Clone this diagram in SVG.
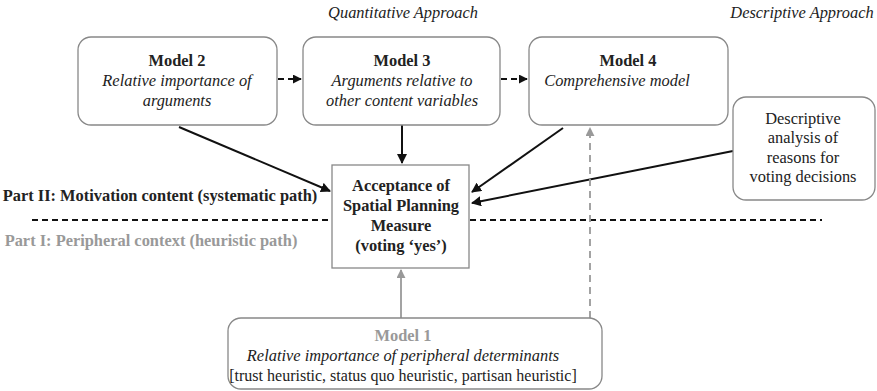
<svg xmlns="http://www.w3.org/2000/svg" width="877" height="391" viewBox="0 0 877 391">
<style>
text{font-family:"Liberation Serif","Times New Roman",serif;font-size:16.4px;fill:#222;text-anchor:middle}
.b{font-weight:bold}
.i{font-style:italic}
.g{fill:#999}
.box{fill:#fff;stroke:#888;stroke-width:1.3}
.ln{stroke:#111;stroke-width:2;fill:none}
.dl{stroke:#111;stroke-width:1.8;fill:none;stroke-dasharray:6,4}
.gl{stroke:#999;stroke-width:1.8;fill:none}
.gd{stroke:#999;stroke-width:1.8;fill:none;stroke-dasharray:7,5}
</style>
<defs>
<marker id="ab" viewBox="0 0 10 10" refX="9" refY="5" markerWidth="5" markerHeight="5" orient="auto"><path d="M0,0 L10,5 L0,10 z" fill="#111"/></marker>
<marker id="ag" viewBox="0 0 10 10" refX="9" refY="5" markerWidth="5" markerHeight="5" orient="auto"><path d="M0,0 L10,5 L0,10 z" fill="#999"/></marker>
</defs>
<text class="i" x="403" y="18">Quantitative Approach</text>
<text class="i" x="802" y="18">Descriptive Approach</text>
<g id="divider">
<line class="dl" x1="32" y1="220" x2="332" y2="220"/>
<line class="dl" x1="470" y1="220" x2="822" y2="220"/>
</g>
<text class="b" x="160" y="201">Part II: Motivation content (systematic path)</text>
<text class="b g" x="151" y="246">Part I: Peripheral context (heuristic path)</text>
<g id="connectors">
<line class="dl" x1="278" y1="79" x2="301" y2="79" marker-end="url(#ab)"/>
<line class="dl" x1="501" y1="79" x2="527" y2="79" marker-end="url(#ab)"/>
<line class="ln" x1="402" y1="125" x2="402" y2="163" marker-end="url(#ab)"/>
<line class="ln" x1="179" y1="127" x2="330" y2="191" marker-end="url(#ab)"/>
<line class="ln" x1="563" y1="128" x2="472" y2="192" marker-end="url(#ab)"/>
<line class="ln" x1="733" y1="151" x2="472" y2="203" marker-end="url(#ab)"/>
<line class="gl" x1="401" y1="318" x2="401" y2="270" marker-end="url(#ag)"/>
<line class="gd" x1="590" y1="318" x2="590" y2="128" marker-end="url(#ag)"/>
</g>
<g id="model2">
<rect class="box" x="78" y="37" width="199" height="88" rx="13"/>
<text class="b" x="177" y="66">Model 2</text>
<text class="i" x="177" y="86">Relative importance of</text>
<text class="i" x="177" y="106">arguments</text>
</g>
<g id="model3">
<rect class="box" x="303" y="37" width="197" height="88" rx="13"/>
<text class="b" x="402" y="66">Model 3</text>
<text class="i" x="402" y="86">Arguments relative to</text>
<text class="i" x="402" y="106">other content variables</text>
</g>
<g id="model4">
<rect class="box" x="529" y="37" width="199" height="88" rx="13"/>
<text class="b" x="628" y="66">Model 4</text>
<text class="i" x="617" y="86">Comprehensive model</text>
</g>
<g id="descriptive">
<rect class="box" x="733" y="97" width="142" height="103" rx="13"/>
<text x="803" y="124">Descriptive</text>
<text x="803" y="143">analysis of</text>
<text x="803" y="163">reasons for</text>
<text x="803" y="182">voting decisions</text>
</g>
<g id="acceptance">
<rect class="box" x="332" y="165" width="137" height="103"/>
<text class="b" x="401" y="191">Acceptance of</text>
<text class="b" x="401" y="211">Spatial Planning</text>
<text class="b" x="401" y="231">Measure</text>
<text class="b" x="401" y="251">(voting ‘yes’)</text>
</g>
<g id="model1">
<rect class="box" x="228" y="318" width="374" height="71" rx="13"/>
<text class="b g" x="403" y="341">Model 1</text>
<text class="i" x="403" y="361">Relative importance of peripheral determinants</text>
<text x="403" y="381" style="font-size:16px">[trust heuristic, status quo heuristic, partisan heuristic]</text>
</g>
</svg>
